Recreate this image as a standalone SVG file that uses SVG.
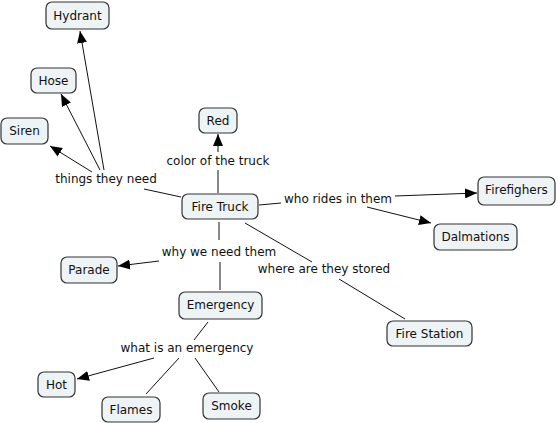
<svg xmlns="http://www.w3.org/2000/svg" width="558" height="423" viewBox="0 0 558 423">
<style>
.n rect{fill:#eef3f5;stroke:#333;stroke-width:1.2}
text{font-family:"DejaVu Sans",Verdana,sans-serif;font-size:12px;fill:#111;text-anchor:middle}
#links line{stroke:#111;stroke-width:1}
.a{marker-end:url(#arr)}
</style>
<defs>
<marker id="arr" markerUnits="userSpaceOnUse" markerWidth="12" markerHeight="10" refX="12" refY="5" orient="auto" viewBox="0 0 12 10">
<path d="M0,0 L12,5 L0,10 Z" fill="#000"/>
</marker>
</defs>
<rect width="558" height="423" fill="#fff"/>
<g id="links">
<line x1="181" y1="197" x2="144" y2="189"/>
<line class="a" x1="104" y1="170" x2="80" y2="31"/>
<line class="a" x1="100" y1="170" x2="61" y2="94"/>
<line class="a" x1="92" y1="172" x2="50" y2="146"/>
<line x1="218" y1="193" x2="218" y2="170"/>
<line class="a" x1="218" y1="152" x2="218" y2="134"/>
<line x1="259" y1="205" x2="281" y2="203"/>
<line class="a" x1="395" y1="196" x2="477" y2="193"/>
<line class="a" x1="367" y1="207" x2="431" y2="223"/>
<line x1="245" y1="223" x2="312" y2="262"/>
<line x1="339" y1="279" x2="405" y2="319"/>
<line x1="219" y1="222" x2="219" y2="240"/>
<line x1="220" y1="262" x2="220" y2="290"/>
<line class="a" x1="159" y1="261" x2="118" y2="266"/>
<line x1="208" y1="322" x2="194" y2="340"/>
<line class="a" x1="154" y1="358" x2="77" y2="379"/>
<line x1="179" y1="358" x2="146" y2="394"/>
<line x1="195" y1="358" x2="219" y2="392"/>
</g>
<g id="lbl-need"><text x="106" y="183">things they need</text></g>
<g id="lbl-color"><text x="218" y="165">color of the truck</text></g>
<g id="lbl-rides"><text x="338" y="203">who rides in them</text></g>
<g id="lbl-why"><text x="219" y="256">why we need them</text></g>
<g id="lbl-where"><text x="324" y="273">where are they stored</text></g>
<g id="lbl-emerg"><text x="187" y="352">what is an emergency</text></g>
<g id="hydrant" class="n"><rect x="46" y="2" width="63" height="27" rx="6"/><text x="77.5" y="20">Hydrant</text></g>
<g id="hose" class="n"><rect x="31" y="68" width="45" height="25" rx="6"/><text x="53.5" y="85">Hose</text></g>
<g id="siren" class="n"><rect x="1" y="118" width="47" height="26" rx="6"/><text x="24.5" y="135">Siren</text></g>
<g id="red" class="n"><rect x="199" y="108" width="38" height="25" rx="6"/><text x="218" y="125">Red</text></g>
<g id="firetruck" class="n"><rect x="182" y="194" width="76" height="25" rx="6"/><text x="220" y="211">Fire Truck</text></g>
<g id="firefighers" class="n"><rect x="478" y="177" width="77" height="28" rx="6"/><text x="516.5" y="194">Firefighers</text></g>
<g id="dalmations" class="n"><rect x="434" y="224" width="83" height="26" rx="6"/><text x="475.5" y="241">Dalmations</text></g>
<g id="firestation" class="n"><rect x="387" y="321" width="85" height="25" rx="6"/><text x="429.5" y="338">Fire Station</text></g>
<g id="parade" class="n"><rect x="61" y="257" width="56" height="26" rx="6"/><text x="89" y="274">Parade</text></g>
<g id="emergency" class="n"><rect x="179" y="292" width="83" height="27" rx="6"/><text x="220.5" y="309">Emergency</text></g>
<g id="hot" class="n"><rect x="38" y="372" width="37" height="25" rx="6"/><text x="56.5" y="389">Hot</text></g>
<g id="flames" class="n"><rect x="102" y="397" width="58" height="25" rx="6"/><text x="131" y="414">Flames</text></g>
<g id="smoke" class="n"><rect x="203" y="393" width="57" height="26" rx="6"/><text x="231.5" y="410">Smoke</text></g>
</svg>
